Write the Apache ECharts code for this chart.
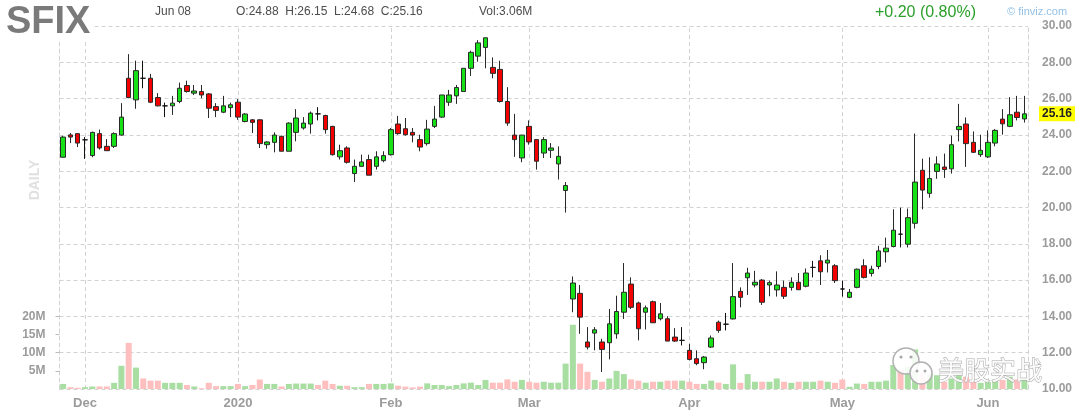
<!DOCTYPE html>
<html><head><meta charset="utf-8">
<script src="https://cdn.jsdelivr.net/npm/echarts@6/dist/echarts.min.js"></script>
<style>html,body{margin:0;padding:0;background:#fff}#c{width:1080px;height:417px}</style>
</head><body><div id="c"></div>
<script>
const ticker = 'SFIX';
// trading days per month
const tradingDays = [
  ['2019-11',[26,27,29]],
  ['2019-12',[2,3,4,5,6,9,10,11,12,13,16,17,18,19,20,23,24,26,27,30,31]],
  ['2020-01',[2,3,6,7,8,9,10,13,14,15,16,17,21,22,23,24,27,28,29,30,31]],
  ['2020-02',[3,4,5,6,7,10,11,12,13,14,18,19,20,21,24,25,26,27,28]],
  ['2020-03',[2,3,4,5,6,9,10,11,12,13,16,17,18,19,20,23,24,25,26,27,30,31]],
  ['2020-04',[1,2,3,6,7,8,9,13,14,15,16,17,20,21,22,23,24,27,28,29,30]],
  ['2020-05',[1,4,5,6,7,8,11,12,13,14,15,18,19,20,21,22,26,27,28,29]],
  ['2020-06',[1,2,3,4,5,8]]
];
const monthNames = ['Jan','Feb','Mar','Apr','May','Jun','Jul','Aug','Sep','Oct','Nov','Dec'];

const opens = [22.77,24.00,24.07,23.73,22.86,24.07,23.37,23.37,23.99,27.12,
25.93,27.12,27.12,26.06,25.60,25.60,25.84,26.72,26.30,26.39,
26.26,25.56,25.25,25.50,25.80,24.74,24.83,24.83,23.46,23.59,
23.92,23.10,24.14,24.38,24.60,25.16,25.07,24.47,22.79,23.28,
21.87,22.27,22.64,22.27,22.58,22.91,24.60,24.34,24.14,23.74,
23.52,24.47,24.98,25.80,26.15,26.39,27.67,28.34,28.82,27.72,
27.61,25.84,23.99,22.73,24.47,23.74,23.00,23.15,22.40,20.94,
14.96,15.27,12.59,13.08,12.59,12.55,13.04,14.23,15.78,14.74,
14.23,14.81,13.87,13.87,12.86,12.68,12.13,11.67,11.45,12.31,
13.68,13.57,13.86,15.38,16.13,15.73,16.00,15.73,15.46,15.60,
15.60,15.88,15.66,16.70,17.06,16.94,16.79,15.51,15.05,15.60,
16.79,16.37,16.75,17.56,17.85,18.53,17.98,19.13,22.05,20.78,
21.99,22.23,22.13,24.29,24.60,23.59,22.91,22.79,23.55,24.87,
24.47,25.25,24.88];
const highs = [23.95,24.10,24.07,23.88,24.18,24.29,23.77,24.14,25.75,28.45,
28.09,28.09,27.36,26.30,25.78,26.15,26.88,26.99,26.75,26.75,
26.30,25.75,26.15,25.78,25.97,25.20,24.87,24.87,23.65,24.14,
23.96,24.69,25.42,24.98,25.29,25.53,25.11,24.50,23.46,23.37,
22.64,22.91,22.91,23.10,23.10,24.38,25.05,24.93,24.38,24.01,
24.83,25.60,26.20,26.48,26.75,27.67,28.64,29.22,29.35,28.27,
28.09,26.63,25.16,23.99,24.80,23.77,23.88,23.55,23.37,21.40,
16.20,15.73,13.41,13.41,12.77,14.41,15.14,16.94,16.15,14.81,
14.60,14.87,14.74,14.01,13.35,13.41,12.49,12.13,11.82,12.95,
13.77,14.19,16.94,15.60,16.68,16.51,16.06,15.97,16.48,15.97,
16.15,16.39,16.64,17.06,17.37,17.66,16.88,15.97,15.51,16.64,
17.15,16.79,17.89,18.34,19.90,19.99,19.94,24.07,22.69,22.77,
22.82,22.97,23.96,25.71,24.96,24.19,24.01,24.25,24.32,25.42,
26.08,26.15,26.15];
const lows = [22.75,23.55,23.33,22.68,22.77,23.19,23.13,23.28,23.96,26.02,
25.44,26.57,25.75,25.57,24.98,25.10,25.75,26.33,26.20,26.02,
24.93,24.98,25.20,24.98,24.83,24.69,24.10,23.28,23.24,23.04,
23.10,23.10,23.65,24.29,24.07,24.80,24.07,22.86,22.64,22.42,
21.40,22.24,21.78,22.09,22.49,22.86,24.01,23.96,23.59,23.10,
23.41,24.38,24.93,25.60,25.71,26.39,27.25,28.03,27.67,27.12,
25.78,24.50,22.79,22.49,23.46,22.09,22.73,22.73,21.54,19.72,
14.23,13.04,12.18,12.13,10.94,11.63,12.77,13.86,14.41,12.68,
13.28,13.65,13.78,12.64,12.59,12.40,11.58,11.31,11.09,12.26,
13.10,13.23,13.83,14.50,15.18,15.60,14.63,15.11,15.09,14.96,
15.42,15.46,15.60,16.15,15.73,16.42,15.84,15.09,15.00,15.55,
16.09,16.20,16.60,16.97,17.80,17.80,17.80,18.84,19.90,20.54,
21.58,21.63,21.87,23.64,22.24,23.00,22.79,22.73,23.37,24.01,
24.43,24.80,24.68];
const closes = [23.88,23.88,23.55,23.73,24.14,23.28,23.13,24.07,24.98,26.06,
27.54,27.12,25.80,25.60,25.60,25.75,26.57,26.39,26.42,26.20,
25.47,25.35,25.60,25.66,24.98,25.15,24.69,23.52,23.61,23.99,
23.10,24.65,24.93,24.65,25.20,25.16,24.29,22.91,23.13,22.49,
22.27,22.51,21.78,22.79,22.86,24.29,24.07,24.01,23.99,23.33,
24.32,24.87,26.20,26.20,26.61,27.67,28.55,29.07,29.35,27.39,
25.84,24.65,23.74,23.99,23.61,22.55,23.74,23.28,22.82,21.21,
15.84,13.96,12.31,13.26,12.18,13.59,14.27,15.33,14.50,13.32,
14.47,13.65,14.14,12.64,12.64,12.68,11.63,11.40,11.76,12.81,
13.23,13.57,15.09,15.05,16.39,15.88,14.78,15.86,15.73,15.11,
15.88,15.47,16.39,16.70,16.46,17.10,15.97,15.51,15.33,16.60,
16.15,16.60,17.61,17.76,18.75,18.53,19.44,21.40,20.96,21.60,
22.40,22.09,23.46,24.47,23.52,23.04,23.15,23.59,24.25,24.61,
25.11,24.96,25.16];
// volume in millions of shares
const volumes = [1.4,0.5,0.35,0.5,0.7,0.7,0.7,1.7,6.4,12.7,
5.9,2.9,2.3,2.3,1.7,1.7,1.7,1.1,0.7,0.2,
1.7,0.8,0.8,0.8,1.4,0.8,1.1,2.6,1.4,1.4,
0.7,1.4,1.5,1.5,1.5,1.1,2.3,1.4,0.9,0.9,
0.5,0.5,1.4,1.4,1.4,1.55,0.9,0.65,0.45,0.65,
1.55,1.1,1.1,0.8,1.1,1.55,1.75,1.1,2.5,1.75,
1.75,2.65,2.0,2.5,2.0,1.75,2.0,1.75,1.75,7.0,
17.7,7.0,4.75,2.5,2.0,2.9,5.0,4.1,2.65,2.3,
1.75,2.0,2.0,2.3,2.3,2.3,2.0,1.4,1.4,2.3,
1.75,1.4,6.8,1.7,4.1,2.0,2.0,2.0,2.9,2.0,
1.7,2.0,2.0,2.0,2.3,2.0,1.7,2.6,0.6,1.5,
1.4,2.0,2.0,2.3,6.6,5.2,6.1,10.9,4.3,4.3,
3.8,2.0,2.9,3.8,3.4,2.0,1.7,2.0,2.6,2.5,
3.4,2.6,3.06];
const priceTicks = [10,12,14,16,18,20,22,24,26,28,30];
const volumeTickLabels = [5,10,15,20]; // millions

// ---- derived ----
const dates = [];
tradingDays.forEach(([ym, ds]) => ds.forEach(d => dates.push(ym + '-' + String(d).padStart(2,'0'))));
const monthStarts = [];
dates.forEach((d,i) => { if (i > 0 && d.slice(0,7) !== dates[i-1].slice(0,7)) monthStarts.push(d); });
const monthLabel = d => { const m = +d.slice(5,7); return m === 1 ? d.slice(0,4) : monthNames[m-1]; };

const upFill = '#16e016', downFill = '#f20000', edge = '#2a2a2a';
const volUp = '#a9dea3', volDown = '#ffbfbf';
const gridColor = '#d2d2d2';
const dash = [4,3];
const font = 'Liberation Sans, Arial, sans-serif';

const isUp = i => closes[i] > opens[i] ? true : closes[i] < opens[i] ? false : (i === 0 || closes[i] >= closes[i-1]);
const candles = dates.map((d,i) => [opens[i], closes[i], lows[i], highs[i]]);
const volData = volumes.map((v,i) => ({ value: v * 1e6, itemStyle: { color: isUp(i) ? volUp : volDown } }));

const n = dates.length - 1;
const last = dates[n];
const dateText = monthNames[+last.slice(5,7)-1] + ' ' + last.slice(8,10);
const ohlcText = 'O:' + opens[n].toFixed(2) + '  H:' + highs[n].toFixed(2) + '  L:' + lows[n].toFixed(2) + '  C:' + closes[n].toFixed(2);
const volText = 'Vol:' + volumes[n].toFixed(2) + 'M';
const chg = closes[n] - closes[n-1];
const chgText = (chg >= 0 ? '+' : '') + chg.toFixed(2) + ' (' + (chg / closes[n-1] * 100).toFixed(2) + '%)';

function txt(x, y, text, size, fill, weight, align, extra) {
  return Object.assign({
    type: 'text', x: x, y: y, z: 100,
    style: { text: text, fill: fill, font: (weight || 'normal') + ' ' + size + 'px ' + font,
      textAlign: align || 'left', align: align || 'left', textVerticalAlign: 'middle', verticalAlign: 'middle' }
  }, extra || {});
}

const chart = echarts.init(document.getElementById('c'), null, { renderer: 'canvas' });
chart.setOption({
  animation: false,
  backgroundColor: '#ffffff',
  grid: { left: 59.5, right: 52, top: 26, bottom: 28 },
  xAxis: {
    type: 'category', data: dates, boundaryGap: true,
    axisLine: { show: false }, axisTick: { show: false }, splitLine: { show: false },
    axisLabel: {
      interval: (i, v) => monthStarts.indexOf(v) >= 0,
      formatter: v => monthLabel(v),
      color: '#9b9b9b', fontWeight: 'bold', fontSize: 13, fontFamily: font, margin: 8
    }
  },
  yAxis: [
    {
      type: 'value', position: 'right', min: priceTicks[0], max: priceTicks[priceTicks.length-1], interval: 2,
      axisLine: { show: true, lineStyle: { color: gridColor, type: dash } },
      axisTick: { show: false },
      axisLabel: { formatter: v => v.toFixed(2), color: '#9b9b9b', fontWeight: 'bold', fontSize: 12, fontFamily: font, margin: 14 },
      splitLine: { show: true, lineStyle: { color: gridColor, type: dash } }
    },
    {
      type: 'value', position: 'left', min: 0, max: 100e6, interval: 5e6,
      axisLine: { show: true, lineStyle: { color: gridColor, type: dash } },
      axisTick: { show: true, customValues: volumeTickLabels.map(v => v * 1e6), length: 4, lineStyle: { color: '#bbbbbb' } },
      axisLabel: {
        customValues: volumeTickLabels.map(v => v * 1e6),
        formatter: v => (v > 0 && v <= 20e6) ? (v / 1e6) + 'M' : '',
        color: '#9b9b9b', fontWeight: 'bold', fontSize: 12, fontFamily: font, margin: 14
      },
      splitLine: { show: false }
    }
  ],
  series: [
    {
      type: 'bar', name: 'Volume', xAxisIndex: 0, yAxisIndex: 1, data: volData, barWidth: 6, z: 1
    },
    {
      type: 'candlestick', name: ticker, yAxisIndex: 0, data: candles, barWidth: 5, z: 3,
      itemStyle: { color: upFill, color0: downFill, borderColor: edge, borderColor0: edge, borderColorDoji: '#111', borderWidth: 1 },
      markLine: {
        silent: true, symbol: ['none', 'none'], animation: false, z: 0,
        data: monthStarts.map(d => ({ xAxis: d, lineStyle: { color: gridColor, type: dash, width: 1 }, label: { show: false } }))
      }
    },
    {
      type: 'line', name: 'last', yAxisIndex: 0, data: [], silent: true, z: 10,
      markLine: {
        silent: true, symbol: ['none', 'none'], animation: false,
        lineStyle: { color: 'rgba(0,0,0,0)', width: 1 },
        label: { show: true, position: 'end', formatter: closes[n].toFixed(2), backgroundColor: '#ffff00',
          color: '#222', fontWeight: 'bold', fontSize: 12, fontFamily: font, padding: [2, 3, 1, 3], distance: 11, opacity: 1 },
        data: [{ yAxis: closes[n] }]
      }
    }
  ],
  graphic: [
    { type: 'rect', shape: { x: 0, y: 0, width: 92, height: 42 }, style: { fill: '#fff' }, z: 90 },
    txt(6, 22.5, ticker, 38, '#7a7a7a', 'bold'),
    txt(155, 12, dateText, 12, '#4d4d4d'),
    txt(236, 12, ohlcText, 12, '#4d4d4d'),
    txt(479, 12, volText, 12, '#4d4d4d'),
    txt(875, 13, chgText, 16, '#2a9f2a'),
    txt(1007, 12, '\u00a9 finviz.com', 11, '#93c1e6'),
    txt(35, 180, 'DAILY', 14, '#e0e0e0', 'bold', 'center', { rotation: Math.PI / 2 }),
    // watermark
    { type: 'circle', shape: { cx: 906, cy: 361, r: 13 }, style: { fill: 'rgba(255,255,255,0.85)', stroke: '#b0b0b0', lineWidth: 1.5 }, z: 95 },
    { type: 'circle', shape: { cx: 921, cy: 373, r: 11 }, style: { fill: 'rgba(255,255,255,0.9)', stroke: '#b0b0b0', lineWidth: 1.5 }, z: 96 },
    { type: 'circle', shape: { cx: 901, cy: 357, r: 1.6 }, style: { fill: '#a8a8a8' }, z: 97 },
    { type: 'circle', shape: { cx: 911, cy: 357, r: 1.6 }, style: { fill: '#a8a8a8' }, z: 97 },
    { type: 'circle', shape: { cx: 917, cy: 371, r: 1.5 }, style: { fill: '#a8a8a8' }, z: 97 },
    { type: 'circle', shape: { cx: 925, cy: 371, r: 1.5 }, style: { fill: '#a8a8a8' }, z: 97 },
    { type: 'text', x: 938, y: 370, z: 98,
      style: { text: '美股实战', fill: 'rgba(255,255,255,0.9)', stroke: '#a8a8a8', lineWidth: 1,
        font: 'normal 26px "Noto Sans CJK SC", sans-serif', textVerticalAlign: 'middle', verticalAlign: 'middle' } }
  ]
});
</script>
</body></html>
